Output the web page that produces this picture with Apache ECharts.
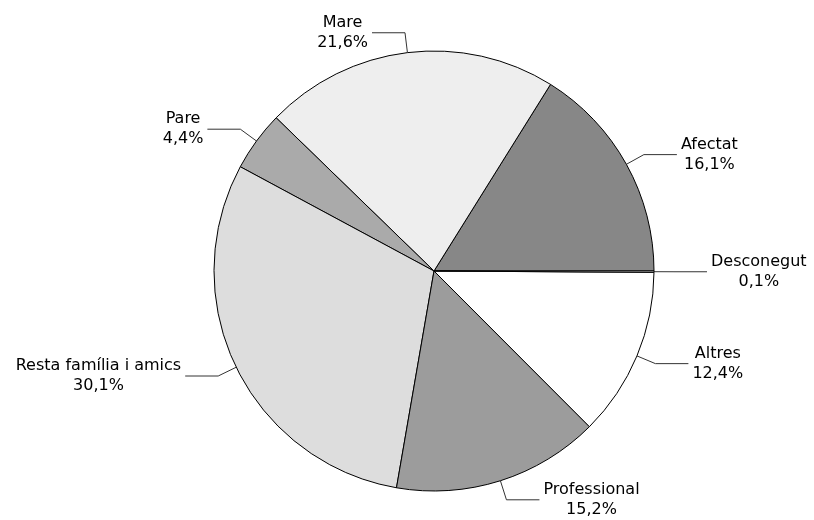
<!DOCTYPE html>
<html>
<head>
<meta charset="utf-8">
<script src="https://cdn.jsdelivr.net/npm/echarts@6/dist/echarts.min.js"></script>
<style>
  html, body { margin: 0; padding: 0; background: #fff; }
  #chart { width: 814px; height: 520px; }
</style>
</head>
<body>
<div id="chart"></div>
<script>
// categories, counter-clockwise from 3 o'clock
var categories = ['Afectat', 'Mare', 'Pare', 'Resta família i amics', 'Professional', 'Altres', 'Desconegut'];
var percents = [16.1, 21.6, 4.4, 30.1, 15.2, 12.4, 0.1];
var sliceColors = ['#878787', '#eeeeee', '#aaaaaa', '#dddddd', '#9c9c9c', '#ffffff', '#ffffff'];

var pieData = categories.map(function (name, i) {
  return { name: name, value: percents[i], itemStyle: { color: sliceColors[i] } };
});

var chart = echarts.init(document.getElementById('chart'));
chart.setOption({
  animation: false,
  series: [
    {
      type: 'pie',
      center: [434, 271],
      radius: 220,
      startAngle: 0,
      clockwise: false,
      avoidLabelOverlap: false,
      data: pieData,
      itemStyle: { borderColor: '#000', borderWidth: 1 },
      emphasis: { disabled: true },
      label: {
        position: 'outside',
        distanceToLabelLine: 4,
        formatter: function (p) {
          return '{n|' + p.name + '}\n{n|' + String(p.value).replace('.', ',') + '%}';
        },
        rich: {
          n: {
            align: 'center',
            fontFamily: 'DejaVu Sans',
            fontSize: 16,
            lineHeight: 20,
            color: '#000'
          }
        }
      },
      labelLine: {
        show: true,
        length: 20,
        length2: 33,
        lineStyle: { color: '#333', width: 1 }
      }
    }
  ]
});
</script>
</body>
</html>
